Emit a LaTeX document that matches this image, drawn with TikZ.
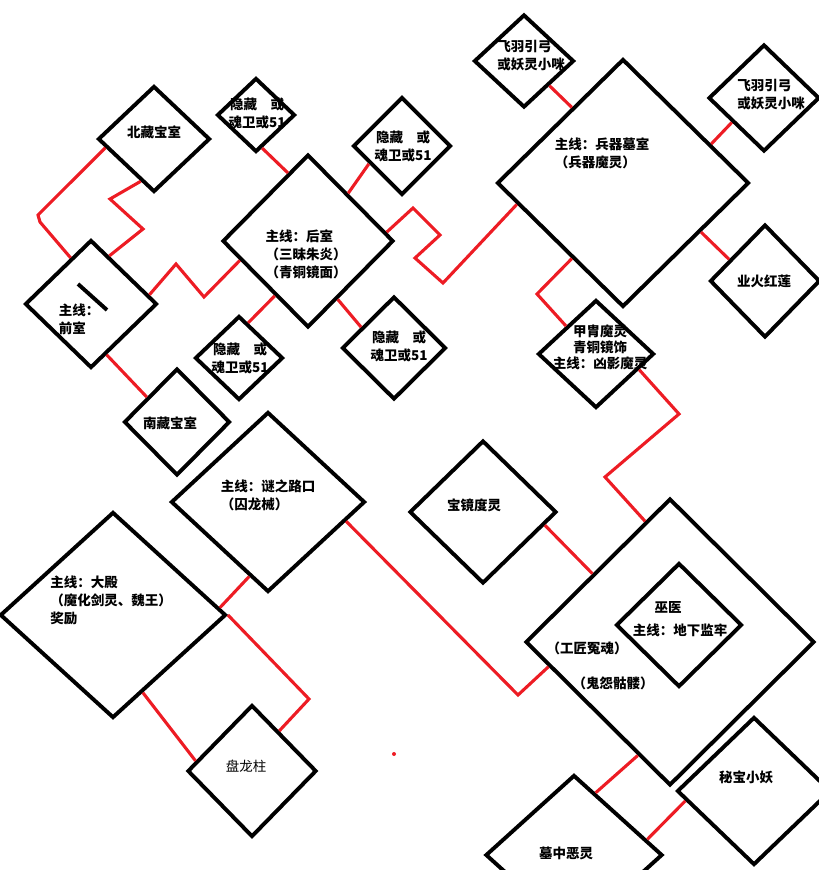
\documentclass[tikz,border=0pt]{standalone}
\usepackage{fontspec}
\setmainfont{Noto Sans CJK SC}
\usetikzlibrary{calc,shapes.geometric}
\definecolor{hongse}{RGB}{237,28,36}

\begin{document}
\begin{tikzpicture}[x=1pt, y=-1pt,
  fang/.style 2 args={draw, diamond, line width=3.9pt, inner sep=0pt, minimum width=#1pt, minimum height=#2pt},
  hong/.style={draw=hongse, line width=3.1pt},
  wz/.style={inner sep=0pt, font=\fontsize{13.5}{18}\selectfont\bfseries},
  xi/.style={inner sep=0pt, font=\fontsize{13.5}{18}\selectfont}]
  \useasboundingbox (0,0) rectangle (819,870);
  \clip (0,0) rectangle (819,870);
  % 房间
  \node[fang={112}{106}] (beicang) at (154,139) {};
  \node[fang={132}{128}] (qianshi) at (91,304) {};
  \node[fang={106}{107}] (nancang) at (177,422) {};
  \node[fang={78}{74}] (yincangA) at (256,115) {};
  \node[fang={171}{173}] (houshi) at (308,241) {};
  \node[fang={98}{98}] (yincangB) at (402,146) {};
  \node[fang={104}{103}] (yincangC) at (394,348) {};
  \node[fang={88}{84}] (yincangD) at (239,358) {};
  \node[fang={100}{93}] (feiyuA) at (524,61) {};
  \node[fang={252}{248}] (bingqi) at (623,183) {};
  \node[fang={111}{107}] (feiyuB) at (764,98) {};
  \node[fang={110}{113}] (yehuo) at (765,281) {};
  \node[fang={116}{108}] (jiazhou) at (596,354) {};
  \node[fang={194}{180}] (mizhi) at (268,502) {};
  \node[fang={226}{206}] (dadian) at (113,615) {};
  \node[fang={129}{132}] (panlong) at (252,771) {};
  \node[fang={147}{143}] (baojing) at (483,512) {};
  \node[fang={289}{287}] (gongjiang) at (670,642) {};
  \node[fang={126}{124}] (wuyi) at (679,625) {};
  \node[fang={154}{148}] (mibao) at (754,791) {};
  \node[fang={177}{160}] (muzhong) at (574,855) {};
  \draw[line width=3.9pt] ($(qianshi)+(-13,-20)$) -- ($(qianshi)+(16,6)$);

  % 北藏宝室—前室
  \draw[hong] ($(beicang.west)!0.16!(beicang.south)$) -- (38,215) -- (40,222) -- ($(qianshi.west)!0.7!(qianshi.north)$);
  \draw[hong] ($(beicang.west)!0.77!(beicang.south)$) -- (110,199) -- (143,229) -- ($(qianshi.north)!0.27!(qianshi.east)$);
  % 前室—后室, 前室—南藏宝室
  \draw[hong] ($(qianshi.north)!0.86!(qianshi.east)$) -- (176,264) -- (204,297) -- ($(houshi.west)!0.22!(houshi.south)$);
  \draw[hong] ($(qianshi.south)!0.23!(qianshi.east)$) -- ($(nancang.west)!0.45!(nancang.north)$);
  % 后室四周的隐藏
  \draw[hong] ($(yincangA.south)!0.15!(yincangA.east)$) -- ($(houshi.north)!0.23!(houshi.west)$);
  \draw[hong] ($(yincangB.west)!0.35!(yincangB.south)$) -- ($(houshi.north)!0.46!(houshi.east)$);
  \draw[hong] ($(houshi.west)!0.62!(houshi.south)$) -- ($(yincangD.north)!0.2!(yincangD.east)$);
  \draw[hong] ($(houshi.south)!0.34!(houshi.east)$) -- ($(yincangC.west)!0.39!(yincangC.north)$);
  % 后室—兵器墓室
  \draw[hong] ($(houshi.north)!0.9!(houshi.east)$) -- (413,208) -- (440,235) -- (415,258) -- (443,283) -- ($(bingqi.west)!0.17!(bingqi.south)$);
  % 兵器墓室四周
  \draw[hong] ($(feiyuA.south)!0.49!(feiyuA.east)$) -- ($(bingqi.north)!0.4!(bingqi.west)$);
  \draw[hong] ($(feiyuB.west)!0.44!(feiyuB.south)$) -- ($(bingqi.north)!0.69!(bingqi.east)$);
  \draw[hong] ($(bingqi.east)!0.39!(bingqi.south)$) -- ($(yehuo.west)!0.37!(yehuo.north)$);
  \draw[hong] ($(bingqi.west)!0.6!(bingqi.south)$) -- (537,294) -- ($(jiazhou.west)!0.5!(jiazhou.north)$);
  % 通往地下监牢
  \draw[hong] ($(jiazhou.east)!0.28!(jiazhou.south)$) -- (679,414) -- (605,477) -- ($(gongjiang.north)!0.17!(gongjiang.west)$);
  \draw[hong] ($(baojing.east)!0.18!(baojing.south)$) -- ($(gongjiang.north)!0.53!(gongjiang.west)$);
  \draw[hong] ($(mizhi.east)!0.21!(mizhi.south)$) -- (518,695) -- ($(gongjiang.west)!0.17!(gongjiang.south)$);
  % 谜之路口—大殿—盘龙柱
  \draw[hong] ($(mizhi.south)!0.19!(mizhi.west)$) -- ($(dadian.north)!0.93!(dadian.east)$);
  \draw[hong] (dadian.east) -- (309,699) -- ($(panlong.north)!0.41!(panlong.east)$);
  \draw[hong] ($(dadian.south)!0.26!(dadian.east)$) -- ($(panlong.west)!0.15!(panlong.north)$);
  % 墓中恶灵
  \draw[hong] ($(gongjiang.south)!0.22!(gongjiang.west)$) -- ($(muzhong.north)!0.24!(muzhong.east)$);
  \draw[hong] ($(mibao.west)!0.13!(mibao.south)$) -- ($(muzhong.north)!0.81!(muzhong.east)$);
  \fill[hongse] (394,754) circle (2);

  % 文字
  \node[wz] (beicangT) at (154,132) {北藏宝室};
  \node[wz, align=center] (yincangAT) at (257,113) {隐藏　或\\魂卫或51};
  \node[wz, align=left] (houshiT) at (306,254) {主线：后室\\（三昧朱炎）\\（青铜镜面）};
  \node[wz, align=center] (yincangBT) at (403,146) {隐藏　或\\魂卫或51};
  \node[wz, align=center] (yincangCT) at (399,346) {隐藏　或\\魂卫或51};
  \node[wz, align=center] (yincangDT) at (240,358) {隐藏　或\\魂卫或51};
  \node[wz, align=left] (qianshiT) at (79,319) {主线：\\前室};
  \node[wz] (nancangT) at (170,423) {南藏宝室};
  \node[wz, align=left] (feiyuAT) at (531,56) {飞羽引弓\\或妖灵小咪};
  \node[wz, align=left] (bingqiT) at (602,153) {主线：兵器墓室\\（兵器魔灵）};
  \node[wz, align=left] (feiyuBT) at (771,95) {飞羽引弓\\或妖灵小咪};
  \node[wz] (yehuoT) at (764,281) {业火红莲};
  \node[wz, align=center, font=\fontsize{13.5}{16}\selectfont\bfseries] (jiazhouT) at (600,347) {甲胄魔灵\\青铜镜饰\\主线：凶影魔灵};
  \node[wz, align=left] (mizhiT) at (268,495) {主线：谜之路口\\（囚龙械）};
  \node[wz, align=left] (dadianT) at (111,600) {主线：大殿\\（魔化剑灵、魏王）\\奖励};
  \node[xi] (panlongT) at (246,766) {盘龙柱};
  \node[wz] (baojingT) at (474,505) {宝镜度灵};
  \node[wz] (wuyiT) at (668,607) {巫医};
  \node[wz] (dixiaT) at (680,630) {主线：地下监牢};
  \node[wz] (gongjiangT) at (587,648) {（工匠冤魂）};
  \node[wz] (guiyuanT) at (613,683) {（鬼怨骷髅）};
  \node[wz] (mibaoT) at (746,777) {秘宝小妖};
  \node[wz] (muzhongT) at (566,853) {墓中恶灵};
\end{tikzpicture}
\end{document}
